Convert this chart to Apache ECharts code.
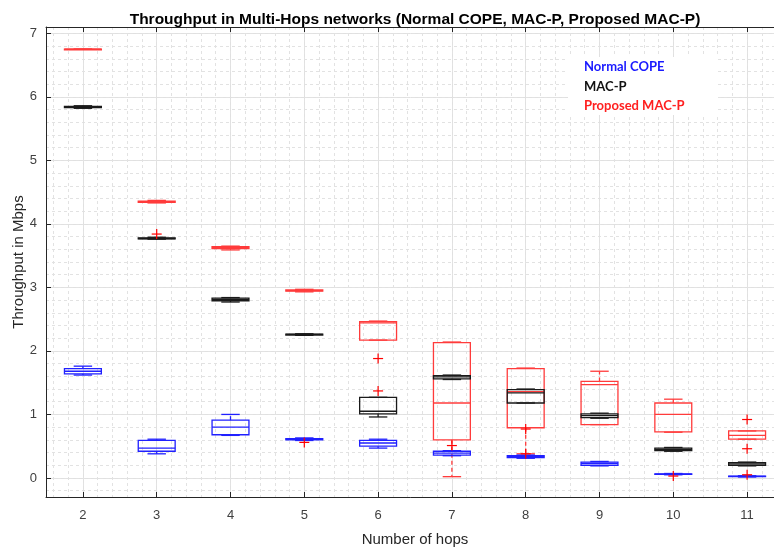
<!DOCTYPE html>
<html><head><meta charset="utf-8">
<script src="https://cdn.jsdelivr.net/npm/echarts@6/dist/echarts.min.js"></script>
<style>html,body{margin:0;padding:0;background:#fff}#c{width:774px;height:547px}</style>
</head><body><div id="c"></div>
<script>
// ---- data ----
const hops = [2, 3, 4, 5, 6, 7, 8, 9, 10, 11];
// five-number summaries per hop: [min, q1, median, q3, max]
const copeStats = [
  [1.62, 1.64, 1.68, 1.72, 1.76],
  [0.38, 0.42, 0.47, 0.59, 0.61],
  [0.67, 0.68, 0.80, 0.91, 1.00],
  [0.59, 0.60, 0.61, 0.62, 0.63],
  [0.47, 0.50, 0.55, 0.59, 0.61],
  [0.35, 0.36, 0.39, 0.42, 0.43],
  [0.31, 0.32, 0.34, 0.35, 0.36],
  [0.19, 0.20, 0.23, 0.25, 0.26],
  [0.05, 0.055, 0.06, 0.065, 0.07],
  [0.015, 0.02, 0.025, 0.03, 0.035]
];
const macpStats = [
  [5.82, 5.83, 5.84, 5.85, 5.86],
  [3.76, 3.765, 3.77, 3.78, 3.79],
  [2.77, 2.79, 2.81, 2.83, 2.84],
  [2.245, 2.25, 2.26, 2.265, 2.27],
  [0.96, 1.01, 1.05, 1.27, 1.27],
  [1.55, 1.56, 1.59, 1.61, 1.62],
  [1.18, 1.18, 1.34, 1.39, 1.40],
  [0.94, 0.95, 0.98, 1.01, 1.02],
  [0.42, 0.43, 0.45, 0.47, 0.48],
  [0.19, 0.20, 0.22, 0.24, 0.25]
];
const propStats = [
  [6.75, 6.75, 6.75, 6.75, 6.75],
  [4.33, 4.34, 4.35, 4.36, 4.37],
  [3.59, 3.61, 3.63, 3.64, 3.65],
  [2.93, 2.94, 2.95, 2.96, 2.97],
  [2.17, 2.17, 2.44, 2.46, 2.47],
  [0.02, 0.60, 1.18, 2.13, 2.14],
  [0.38, 0.79, 1.36, 1.72, 1.73],
  [0.84, 0.84, 1.47, 1.52, 1.68],
  [0.72, 0.725, 1.00, 1.18, 1.24],
  [0.61, 0.61, 0.67, 0.74, 0.74]
];
// outliers: [hop, value]
const copeOutliers = [[5, 0.56], [7, 0.51], [8, 0.38], [10, 0.03], [11, 0.05]];
const macpOutliers = [[3, 3.84], [6, 1.37], [8, 0.77]];
const propOutliers = [[6, 1.88], [11, 0.92], [11, 0.46]];
const seriesNames = ['Normal COPE', 'MAC-P', 'Proposed MAC-P'];
const titleText = 'Throughput in Multi-Hops networks (Normal COPE, MAC-P, Proposed MAC-P)';
const xName = 'Number of hops';
const yName = 'Throughput in Mbps';

// ---- chart ----
const AX = '#262626';
const isInt = v => Math.abs(v - Math.round(v)) < 1e-6;
const fmt = v => isInt(v) ? String(Math.round(v)) : '';

function boxRenderer(color) {
  return function (params, api) {
    const x = api.value(0);
    const c = i => api.coord([x, api.value(i)]);
    const pMin = c(1), pQ1 = c(2), pMed = c(3), pQ3 = c(4), pMax = c(5);
    const cx = pMin[0];
    const hw = api.size([0.5, 0])[0] / 2;
    const cw = hw / 2;
    const st = { stroke: color, lineWidth: 1.3, fill: 'none' };
    const dash = { stroke: color, lineWidth: 1.3, lineDash: [4, 3], fill: 'none' };
    return {
      type: 'group',
      children: [
        { type: 'line', shape: { x1: cx, y1: pQ3[1], x2: cx, y2: pMax[1] }, style: dash },
        { type: 'line', shape: { x1: cx, y1: pQ1[1], x2: cx, y2: pMin[1] }, style: dash },
        { type: 'line', shape: { x1: cx - cw, y1: pMax[1], x2: cx + cw, y2: pMax[1] }, style: st },
        { type: 'line', shape: { x1: cx - cw, y1: pMin[1], x2: cx + cw, y2: pMin[1] }, style: st },
        { type: 'rect', shape: { x: cx - hw, y: pQ3[1], width: 2 * hw, height: Math.max(pQ1[1] - pQ3[1], 0.5) }, style: st },
        { type: 'line', shape: { x1: cx - hw, y1: pMed[1], x2: cx + hw, y2: pMed[1] }, style: st }
      ]
    };
  };
}
function plusRenderer(params, api) {
  const p = api.coord([api.value(0), api.value(1)]);
  const s = 5;
  const st = { stroke: '#ff0000', lineWidth: 1.2 };
  return {
    type: 'group',
    children: [
      { type: 'line', shape: { x1: p[0] - s, y1: p[1], x2: p[0] + s, y2: p[1] }, style: st },
      { type: 'line', shape: { x1: p[0], y1: p[1] - s, x2: p[0], y2: p[1] + s }, style: st }
    ]
  };
}
const rows = stats => hops.map((h, i) => [h].concat(stats[i]));

const chart = echarts.init(document.getElementById('c'));
chart.setOption({
  backgroundColor: '#ffffff',
  animation: false,
  textStyle: { fontFamily: 'Liberation Sans' },
  grid: { left: 46, top: 27, right: -10, bottom: 50, containLabel: false, outerBoundsMode: 'none' },
  xAxis: [
    {
      type: 'value', min: 1.5, max: 11.5, splitNumber: 10, position: 'bottom',
      axisLine: { show: true, onZero: false, lineStyle: { color: AX, width: 1 } },
      axisTick: { show: true, inside: true, length: 5, lineStyle: { color: AX } },
      axisLabel: { formatter: fmt, color: '#404040', fontSize: 13, margin: 12, fontFamily: 'Liberation Sans' },
      splitLine: { show: true, lineStyle: { color: '#e0e0e0', width: 1 } },
      name: xName, nameLocation: 'middle', nameGap: 35,
      nameTextStyle: { color: AX, fontSize: 15, fontFamily: 'Liberation Sans' }
    },
    {
      type: 'value', min: 1.5, max: 11.5, splitNumber: 10, position: 'top',
      axisLine: { show: true, onZero: false, lineStyle: { color: AX, width: 1 } },
      axisTick: { show: true, inside: true, length: 5, lineStyle: { color: AX } },
      axisLabel: { show: false }, splitLine: { show: false }
    },
    {
      type: 'value', min: 1.5, max: 11.5, splitNumber: 50,
      axisLine: { show: false, onZero: false }, axisTick: { show: false }, axisLabel: { show: false },
      splitLine: { show: true, lineStyle: { color: '#e2e2e2', width: 1, type: [3, 3] } }
    }
  ],
  yAxis: [
    {
      type: 'value', min: -0.3, max: 7.1, splitNumber: 7, position: 'left',
      axisLine: { show: true, onZero: false, lineStyle: { color: AX, width: 1 } },
      axisTick: { show: true, inside: true, length: 5, lineStyle: { color: AX } },
      axisLabel: { formatter: fmt, color: '#404040', fontSize: 13, margin: 9, fontFamily: 'Liberation Sans' },
      splitLine: { show: true, lineStyle: { color: '#e0e0e0', width: 1 } }
    },
    {
      type: 'value', min: -0.3, max: 7.1, splitNumber: 37, position: 'right',
      axisLine: { show: false, onZero: false }, axisTick: { show: false }, axisLabel: { show: false },
      splitLine: { show: true, lineStyle: { color: '#e2e2e2', width: 1, type: [3, 3] } }
    }
  ],
  graphic: [
    { type: 'text', x: 415, y: 20, style: { text: titleText, fill: '#000', font: 'bold 15.5px "Liberation Sans"', textAlign: 'center', textVerticalAlign: 'middle' } },
    { type: 'text', x: 19, y: 262, rotation: Math.PI / 2, style: { text: yName, fill: AX, font: '15px "Liberation Sans"', textAlign: 'center', textVerticalAlign: 'middle' } },
    { type: 'rect', shape: { x: 568, y: 57, width: 150, height: 58 }, style: { fill: '#ffffff' }, z: 10 },
    { type: 'text', x: 584, y: 67, z: 11, style: { text: seriesNames[0], fill: '#1a1aff', font: 'bold 13px Lato', textAlign: 'left', textVerticalAlign: 'middle' } },
    { type: 'text', x: 584, y: 87, z: 11, style: { text: seriesNames[1], fill: '#111', font: 'bold 13px Lato', textAlign: 'left', textVerticalAlign: 'middle' } },
    { type: 'text', x: 584, y: 106, z: 11, style: { text: seriesNames[2], fill: '#ff2020', font: 'bold 13px Lato', textAlign: 'left', textVerticalAlign: 'middle' } }
  ],
  series: [
    { name: seriesNames[2], type: 'custom', xAxisIndex: 0, yAxisIndex: 0, renderItem: boxRenderer('#ff3b3b'), encode: { x: 0, y: [1, 2, 3, 4, 5] }, data: rows(propStats), z: 3 },
    { name: seriesNames[1], type: 'custom', xAxisIndex: 0, yAxisIndex: 0, renderItem: boxRenderer('#1a1a1a'), encode: { x: 0, y: [1, 2, 3, 4, 5] }, data: rows(macpStats), z: 4 },
    { name: seriesNames[0], type: 'custom', xAxisIndex: 0, yAxisIndex: 0, renderItem: boxRenderer('#2020ff'), encode: { x: 0, y: [1, 2, 3, 4, 5] }, data: rows(copeStats), z: 5 },
    { name: 'outliers', type: 'custom', xAxisIndex: 0, yAxisIndex: 0, renderItem: plusRenderer, encode: { x: 0, y: 1 }, data: copeOutliers.concat(macpOutliers, propOutliers), z: 6 }
  ]
});
</script></body></html>
